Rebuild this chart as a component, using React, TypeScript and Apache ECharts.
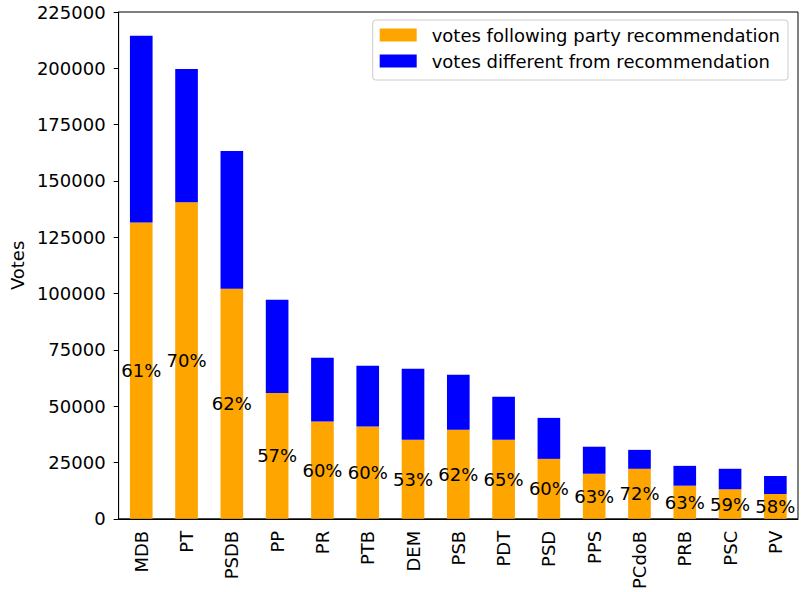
import React, { useEffect, useRef } from "react";
import * as echarts from "echarts";

const categories = ["MDB", "PT", "PSDB", "PP", "PR", "PTB", "DEM", "PSB", "PDT", "PSD", "PPS", "PCdoB", "PRB", "PSC", "PV"];
const following = [131500, 140500, 102100, 55900, 43200, 41000, 35100, 39500, 35100, 26600, 20000, 22200, 14700, 13100, 11000];
const different = [83000, 59200, 61200, 41300, 28300, 26900, 31500, 24400, 19100, 18200, 12000, 8400, 8800, 9100, 8000];
const pctLabels = ["61%", "70%", "62%", "57%", "60%", "60%", "53%", "62%", "65%", "60%", "63%", "72%", "63%", "59%", "58%"];
const seriesNames = ["votes following party recommendation", "votes different from recommendation"];

const FONT = "DejaVu Sans";
const FS = 18;

export default function App() {
  const ref = useRef<HTMLDivElement>(null);
  useEffect(() => {
    const chart = echarts.init(ref.current!, null, { renderer: "svg" });
    chart.setOption({
      animation: false,
      textStyle: { fontFamily: FONT },
      grid: {
        left: 117,
        right: 3,
        top: 12,
        bottom: 73,
        show: true,
        borderColor: "#000",
        borderWidth: 1,
        backgroundColor: "transparent",
      },
      legend: {
        orient: "vertical",
        right: 13,
        top: 20,
        itemWidth: 37,
        itemHeight: 13,
        itemGap: 8,
        padding: [6, 8, 10, 7],
        borderColor: "#cccccc",
        borderWidth: 1,
        borderRadius: 3,
        backgroundColor: "rgba(255,255,255,0.8)",
        icon: "rect",
        textStyle: { fontSize: FS, color: "#000", fontFamily: FONT, padding: [0, 0, 0, 10] },
        data: seriesNames,
      },
      xAxis: {
        type: "category",
        data: categories,
        axisLine: { lineStyle: { color: "#000", width: 1 } },
        axisTick: { alignWithLabel: true, length: 5, lineStyle: { color: "#000" } },
        axisLabel: { rotate: 90, fontSize: FS, color: "#000", margin: 12, fontFamily: FONT },
      },
      yAxis: {
        type: "value",
        name: "Votes",
        nameLocation: "middle",
        nameGap: 91,
        nameTextStyle: { fontSize: FS, color: "#000", fontFamily: FONT },
        min: 0,
        max: 225000,
        interval: 25000,
        splitLine: { show: false },
        axisLine: { show: true, lineStyle: { color: "#000", width: 1 } },
        axisTick: { show: true, length: 5, lineStyle: { color: "#000" } },
        axisLabel: {
          fontSize: FS,
          color: "#000",
          margin: 13,
          fontFamily: FONT,
          formatter: (v: number) => String(v),
        },
      },
      series: [
        {
          name: seriesNames[0],
          type: "bar",
          stack: "votes",
          barWidth: "50%",
          itemStyle: { color: "#FFA500" },
          data: following,
          label: {
            show: true,
            position: "inside",
            color: "#000",
            fontSize: FS,
            fontFamily: FONT,
            formatter: (p: any) => pctLabels[p.dataIndex],
          },
        },
        {
          name: seriesNames[1],
          type: "bar",
          stack: "votes",
          barWidth: "50%",
          itemStyle: { color: "#0000FF" },
          data: different,
        },
      ],
    });
    return () => chart.dispose();
  }, []);
  return <div ref={ref} style={{ width: 801, height: 592, position: "absolute", left: 0, top: 0 }} />;
}
